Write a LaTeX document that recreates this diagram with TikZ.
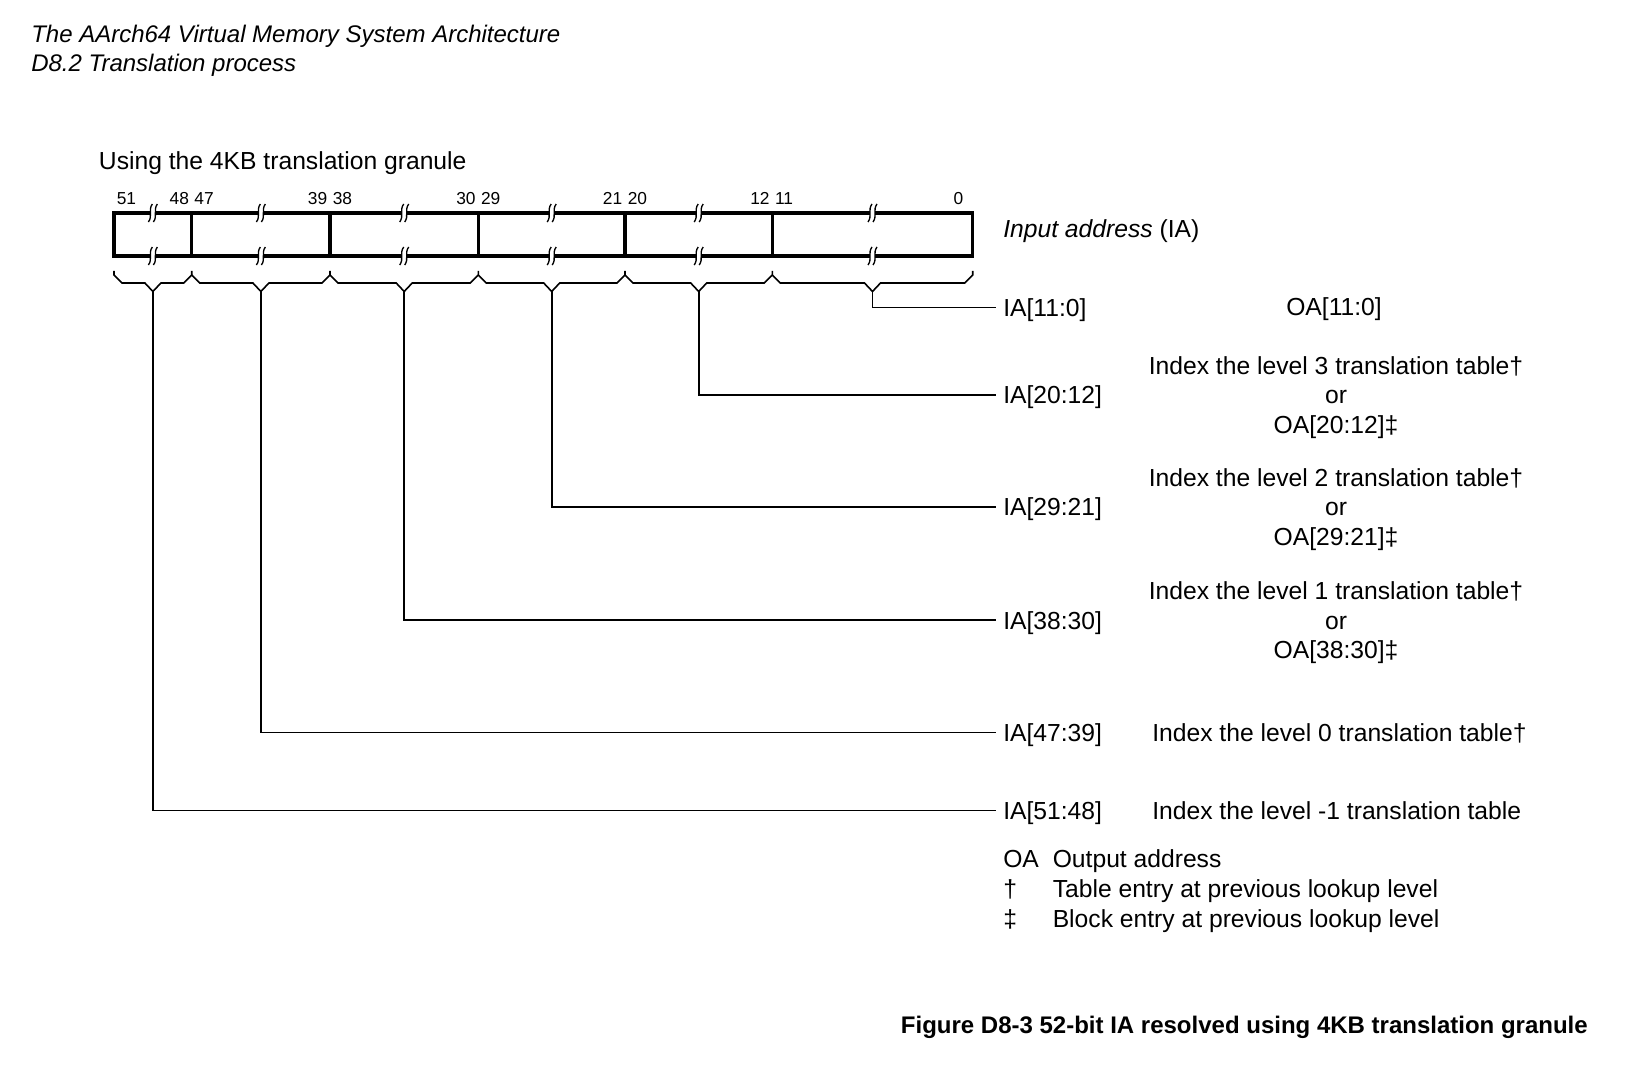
\documentclass[tikz,border=0pt]{standalone}
\usepackage{fontspec}
\setmainfont{Liberation Sans}

\begin{document}
\begin{tikzpicture}[x=0.75pt,y=-0.75pt,
    every node/.style={inner sep=0pt,font=\fontsize{18.5}{22.1}\selectfont},
    bitnum/.style={font=\fontsize{13}{15}\selectfont},
    reg/.style={line width=2.5pt},
    brace/.style={line width=1.2pt},
    conn/.style={line width=1.3pt,shorten >=5pt},
    ialabel/.style={anchor=west,text height=13.2pt,text depth=0pt},
    brk/.pic={\fill[white] (-2.5,-3) rectangle (2.5,3);
              \draw[line width=1pt] (-0.5,-9) .. controls (-5,-3) and (0,3) .. (-4.5,9);
              \draw[line width=1pt] (4.5,-9) .. controls (0,-3) and (5,3) .. (0.5,9);}]

    \useasboundingbox (0,0) rectangle (1629,1066);

    % headings
    \node[anchor=base west,font=\fontsize{18}{22}\selectfont\itshape] (hd1) at (31,42.8) {The AArch64 Virtual Memory System Architecture};
    \node[anchor=base west,font=\fontsize{18}{22}\selectfont\itshape] (hd2) at (31,72) {D8.2 Translation process};
    \node[anchor=base west] (gran) at (98.7,169.5) {Using the 4KB translation granule};

    % the address register
    \draw[reg] (114,213) rectangle (972.7,256);
    \draw[reg] (191.7,213) -- (191.7,256);
    \draw[reg] (330,213) -- (330,256);
    \draw[reg] (478.3,213) -- (478.3,256);
    \draw[reg] (625,213) -- (625,256);
    \draw[reg] (772.3,213) -- (772.3,256);
    \node[anchor=base west] (ia) at (1003,238) {\textit{Input address} (IA)};

    % breaks
    \path (152.9,213) pic {brk} (152.9,256) pic {brk};
    \path (260.9,213) pic {brk} (260.9,256) pic {brk};
    \path (404.2,213) pic {brk} (404.2,256) pic {brk};
    \path (551.7,213) pic {brk} (551.7,256) pic {brk};
    \path (698.7,213) pic {brk} (698.7,256) pic {brk};
    \path (872.5,213) pic {brk} (872.5,256) pic {brk};

    % bit numbers
    \node[bitnum,anchor=base west] (b51) at (116.5,205) {51};
    \node[bitnum,anchor=base east] (b48) at (189.2,205) {48};
    \node[bitnum,anchor=base west] (b47) at (194.2,205) {47};
    \node[bitnum,anchor=base east] (b39) at (327.5,205) {39};
    \node[bitnum,anchor=base west] (b38) at (332.5,205) {38};
    \node[bitnum,anchor=base east] (b30) at (475.8,205) {30};
    \node[bitnum,anchor=base west] (b29) at (480.8,205) {29};
    \node[bitnum,anchor=base east] (b21) at (622.5,205) {21};
    \node[bitnum,anchor=base west] (b20) at (627.5,205) {20};
    \node[bitnum,anchor=base east] (b12) at (769.8,205) {12};
    \node[bitnum,anchor=base west] (b11) at (774.8,205) {11};
    \node[bitnum,anchor=base east] (b0) at (963.5,205) {0};

    % braces under the fields
    \draw[brace] (114,271) -- (114,275) -- (122,283) -- (144.9,283) -- (152.9,291.5) -- (160.9,283) -- (183.7,283) -- (191.7,275) -- (191.7,271);
    \draw[brace] (191.7,275) -- (199.7,283) -- (252.9,283) -- (260.9,291.5) -- (268.9,283) -- (322,283) -- (330,275) -- (330,271);
    \draw[brace] (330,275) -- (338,283) -- (396.2,283) -- (404.2,291.5) -- (412.2,283) -- (470.3,283) -- (478.3,275) -- (478.3,271);
    \draw[brace] (478.3,275) -- (486.3,283) -- (543.7,283) -- (551.7,291.5) -- (559.7,283) -- (617,283) -- (625,275) -- (625,271);
    \draw[brace] (625,275) -- (633,283) -- (690.7,283) -- (698.7,291.5) -- (706.7,283) -- (764.3,283) -- (772.3,275) -- (772.3,271);
    \draw[brace] (772.3,275) -- (780.3,283) -- (864.5,283) -- (872.5,291.5) -- (880.5,283) -- (964.7,283) -- (972.7,275) -- (972.7,271);

    \coordinate (t51) at (152.9,291.5);
    \coordinate (t47) at (260.9,291.5);
    \coordinate (t38) at (404.2,291.5);
    \coordinate (t29) at (551.7,291.5);
    \coordinate (t20) at (698.7,291.5);
    \coordinate (t11) at (872.5,291.5);

    % field names
    \node[ialabel] (ia11) at (1003,307.5) {IA[11:0]};
    \node[ialabel] (ia20) at (1003,394.8) {IA[20:12]};
    \node[ialabel] (ia29) at (1003,507) {IA[29:21]};
    \node[ialabel] (ia38) at (1003,620.3) {IA[38:30]};
    \node[ialabel] (ia47) at (1003,732.5) {IA[47:39]};
    \node[ialabel] (ia51) at (1003,810.4) {IA[51:48]};

    \draw[conn] (t11) |- (ia11.west);
    \draw[conn] (t20) |- (ia20.west);
    \draw[conn] (t29) |- (ia29.west);
    \draw[conn] (t38) |- (ia38.west);
    \draw[conn] (t47) |- (ia47.west);
    \draw[conn] (t51) |- (ia51.west);

    % what each field does
    \node[anchor=base] (oa11) at (1334,316) {OA[11:0]};
    \node[align=center] (lv3) at (1336,397.2) {Index the level 3 translation table†\\or\\OA[20:12]‡};
    \node[align=center] (lv2) at (1336,509.4) {Index the level 2 translation table†\\or\\OA[29:21]‡};
    \node[align=center] (lv1) at (1336,622.7) {Index the level 1 translation table†\\or\\OA[38:30]‡};
    \node[anchor=base west] (lv0) at (1152,741) {Index the level 0 translation table†};
    \node[anchor=base west] (lvm) at (1152,819) {Index the level -1 translation table};

    % key
    \node[anchor=base west] (k1) at (1003,867.5) {OA};
    \node[anchor=base west] (k1t) at (1052.5,867.5) {Output address};
    \node[anchor=base west] (k2) at (1003,897.5) {†};
    \node[anchor=base west] (k2t) at (1052.5,897.5) {Table entry at previous lookup level};
    \node[anchor=base west] (k3) at (1003,927) {‡};
    \node[anchor=base west] (k3t) at (1052.5,927) {Block entry at previous lookup level};

    % caption
    \node[anchor=base east,font=\fontsize{18}{22}\selectfont\bfseries] (cap) at (1588,1033) {Figure D8-3 52-bit IA resolved using 4KB translation granule};
\end{tikzpicture}
\end{document}
